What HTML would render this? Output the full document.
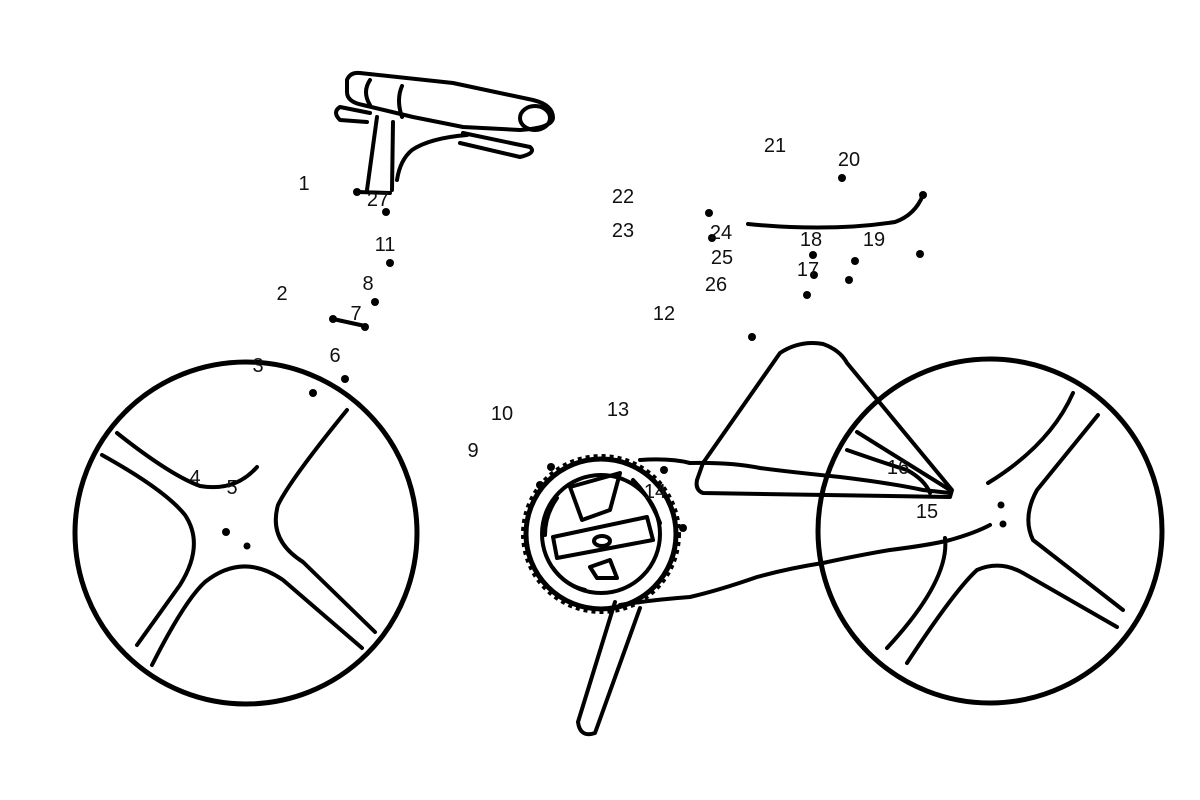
<!DOCTYPE html>
<html><head><meta charset="utf-8"><style>
html,body{margin:0;padding:0;background:#fff;}
svg{display:block}
text{font-family:"Liberation Sans",sans-serif;font-size:20px;fill:#111;text-anchor:middle;dominant-baseline:central}
</style></head><body>
<svg width="1200" height="800" viewBox="0 0 1200 800">
<g fill="none" stroke="#000" stroke-width="4" stroke-linecap="round" stroke-linejoin="round">
<!-- left wheel -->
<circle cx="246" cy="533" r="171" stroke-width="5"/>
<path d="M117,433 Q170,475 200,486 Q235,492 257,467"/>
<path d="M102,455 Q165,490 185,515 Q205,545 180,585 L137,645"/>
<path d="M152,665 Q185,600 205,582 Q243,552 283,580 L362,648"/>
<path d="M347,410 Q290,480 278,505 Q268,540 303,562 L375,632"/>
<!-- right wheel -->
<circle cx="990" cy="531" r="172" stroke-width="5"/>
<path d="M945,538 Q950,580 887,648"/>
<path d="M907,663 Q955,590 977,570 Q1000,560 1023,573 L1117,627"/>
<path d="M1123,610 L1033,540 Q1022,517 1037,490 L1098,415"/>
<path d="M1073,393 Q1050,445 988,483"/>
<!-- seat stay triangle -->
<path d="M703,463 L780,353 Q800,340 823,344 Q840,350 847,363 L952,490 L950,497 L703,493 Q695,490 697,480 Z"/>
<path d="M690,463 Q730,462 760,468 Q790,472 840,477 Q890,483 923,490 L950,493"/>
<path d="M857,432 L950,490"/>
<path d="M847,450 Q890,465 907,470 Q925,480 930,493"/>
<!-- chain -->
<path d="M640,460 Q670,458 690,463"/>
<path d="M620,605 Q650,600 690,597 Q720,590 757,577 Q790,568 823,563 Q860,555 890,550 Q930,545 950,540 Q975,533 990,525"/>
<!-- chainring -->
<circle cx="601" cy="534" r="75" stroke-width="5"/>
<circle cx="601" cy="534" r="78" stroke-width="4" stroke-dasharray="4 4" stroke-linecap="butt"/>
<circle cx="601" cy="534" r="59"/>
<path d="M570,487 L620,473 L610,510 L582,520 Z"/>
<path d="M553,537 L647,517 L653,540 L557,558 Z"/>
<path d="M590,567 L597,578 L617,578 L610,560 Z"/>
<path d="M633,480 Q650,497 660,523"/>
<path d="M557,498 Q545,515 545,535"/>
<path d="M553,568 Q565,585 585,590"/>
<ellipse cx="602" cy="541" rx="8" ry="5"/>
<!-- crank -->
<path d="M615,602 L578,722 Q580,738 595,733 L640,608"/>
<!-- handlebar -->
<path d="M347,80 Q350,72 360,73 L453,83 L533,100 Q553,105 553,118 Q552,128 520,130 L463,127 L413,117 L363,105 Q347,102 347,92 Z"/>
<path d="M370,80 Q362,92 370,105"/>
<path d="M402,86 Q396,100 402,117"/>
<ellipse cx="535" cy="118" rx="15" ry="12"/>
<path d="M370,113 L340,107 Q332,112 340,120 L367,122"/>
<path d="M463,133 L530,147 Q537,153 520,157 L460,143"/>
<path d="M377,117 L367,190"/>
<path d="M393,122 L392,190"/>
<path d="M397,180 Q400,160 412,150 Q430,138 467,135"/>
<path d="M358,192 L390,193"/>
<path d="M333,319 L365,326"/>
<path d="M748,224 Q830,232 895,222 Q915,215 923,195"/>
</g>
<g fill="#000">
<circle cx="357" cy="192" r="4"/><circle cx="386" cy="212" r="4"/><circle cx="390" cy="263" r="4"/>
<circle cx="375" cy="302" r="4"/><circle cx="333" cy="319" r="4"/><circle cx="365" cy="327" r="4"/>
<circle cx="313" cy="393" r="4"/><circle cx="345" cy="379" r="4"/>
<circle cx="226" cy="532" r="4"/><circle cx="247" cy="546" r="3.5"/>
<circle cx="923" cy="195" r="4"/><circle cx="920" cy="254" r="4"/><circle cx="709" cy="213" r="4"/>
<circle cx="712" cy="238" r="4"/><circle cx="842" cy="178" r="4"/><circle cx="855" cy="261" r="4"/>
<circle cx="849" cy="280" r="4"/><circle cx="813" cy="255" r="4"/><circle cx="814" cy="275" r="4"/>
<circle cx="807" cy="295" r="4"/><circle cx="752" cy="337" r="4"/>
<circle cx="551" cy="467" r="4"/><circle cx="540" cy="485" r="4"/><circle cx="664" cy="470" r="4"/>
<circle cx="683" cy="528" r="4"/><circle cx="1001" cy="505" r="3.5"/><circle cx="1003" cy="524" r="3.5"/>
</g>
<text x="304" y="184">1</text><text x="378" y="200">27</text><text x="385" y="245">11</text>
<text x="368" y="284">8</text><text x="282" y="294">2</text><text x="356" y="314">7</text>
<text x="335" y="356">6</text><text x="258" y="366">3</text><text x="195" y="478">4</text>
<text x="232" y="488">5</text><text x="502" y="414">10</text><text x="473" y="451">9</text>
<text x="618" y="410">13</text><text x="655" y="492">14</text><text x="664" y="314">12</text>
<text x="623" y="197">22</text><text x="623" y="231">23</text><text x="721" y="233">24</text>
<text x="722" y="258">25</text><text x="716" y="285">26</text><text x="775" y="146">21</text>
<text x="849" y="160">20</text><text x="811" y="240">18</text><text x="874" y="240">19</text>
<text x="808" y="270">17</text><text x="898" y="468">16</text><text x="927" y="512">15</text>
</svg>
</body></html>
